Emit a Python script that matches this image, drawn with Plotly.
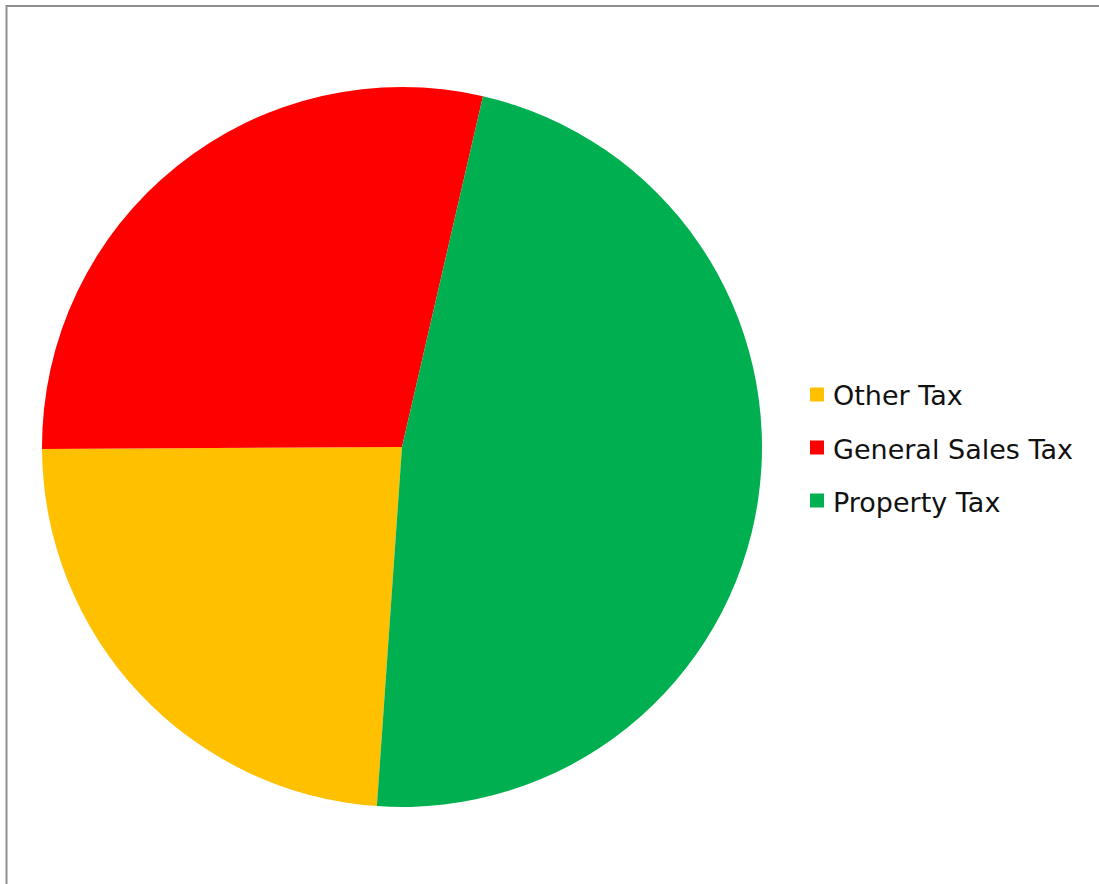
import plotly.graph_objects as go

# Tax revenue shares (percent)
categories = ["Other Tax", "General Sales Tax", "Property Tax"]
shares = [23.8, 28.7, 47.5]
colors = ["#FFC000", "#FF0000", "#00B050"]

W, H = 1099, 884

fig = go.Figure()
fig.add_trace(go.Pie(
    labels=categories,
    values=shares,
    sort=False,
    direction="clockwise",
    rotation=184,
    marker=dict(colors=colors, line=dict(width=0)),
    textinfo="none",
    hoverinfo="label+percent",
    domain=dict(x=[42 / W, 762 / W], y=[77 / H, 797 / H]),
    showlegend=False,
))

# Legend: coloured squares with labels
leg_x0 = 810
leg_text_x = 831
leg_y = [394.5, 447.5, 500.5]
sq = 14
for name, col, yc in zip(categories, colors, leg_y):
    fig.add_shape(type="rect", xref="paper", yref="paper",
                  x0=leg_x0 / W, x1=(leg_x0 + sq) / W,
                  y0=1 - (yc + sq / 2) / H, y1=1 - (yc - sq / 2) / H,
                  fillcolor=col, line=dict(width=0))
    fig.add_annotation(x=leg_text_x / W, y=1 - (yc + 1.5) / H, xref="paper", yref="paper",
                       text=name, showarrow=False, xanchor="left", yanchor="middle",
                       font=dict(family="DejaVu Sans", size=27, color="#111111"))

# Frame lines along the top and left edges
fig.add_shape(type="line", xref="paper", yref="paper",
              x0=6.5 / W, x1=1, y0=1 - 6 / H, y1=1 - 6 / H,
              line=dict(color="#8f8f8f", width=2))
fig.add_shape(type="line", xref="paper", yref="paper",
              x0=6.5 / W, x1=6.5 / W, y0=0, y1=1 - 5 / H,
              line=dict(color="#8f8f8f", width=2))

fig.update_layout(
    width=W, height=H,
    margin=dict(l=0, r=0, t=0, b=0),
    paper_bgcolor="white",
    plot_bgcolor="white",
)

fig.write_html("out.html")
